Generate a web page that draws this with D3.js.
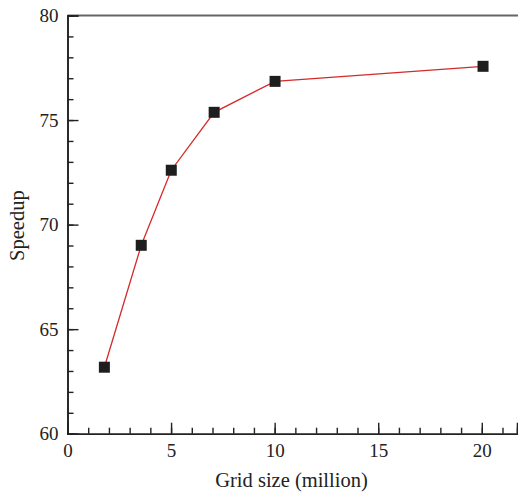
<!DOCTYPE html>
<html>
<head>
<meta charset="utf-8">
<script src="https://cdn.jsdelivr.net/npm/d3@7"></script>
<style>
  body { margin: 0; background: #fff; }
  svg text { font-family: "Liberation Serif", serif; fill: #222; }
</style>
</head>
<body>
<svg id="chart"></svg>
<script>
let gridSize = [1.78, 3.56, 5.01, 7.08, 10.02, 20.06];
let speedup = [63.18, 69.01, 72.6, 75.37, 76.85, 77.57];
let xTicks = [0, 5, 10, 15, 20];
let yTicks = [60, 65, 70, 75, 80];

let width = 518;
let height = 496;
let padLeft = 67.5, padRight = 517, padTop = 15.5, padBottom = 433.7;
let serif = "'Liberation Serif', 'Times New Roman', serif";

let svg = d3.select("#chart").attr("width", width).attr("height", height);

let xScale = d3.scaleLinear().domain([0, 21.7]).range([padLeft, padRight]);
let yScale = d3.scaleLinear().domain([60, 80]).range([padBottom, padTop]);

// top frame line
svg.append("line")
  .attr("x1", padLeft).attr("x2", width)
  .attr("y1", padTop).attr("y2", padTop)
  .attr("stroke", "#666").attr("stroke-width", 2);

// axes, minor ticks pointing inward
let xMajor = d3.axisBottom(xScale).tickValues(xTicks).tickSize(-11).tickPadding(10);
let xMinor = d3.axisBottom(xScale).tickValues(d3.range(0, 22)).tickSize(-6).tickFormat("");
let gxm = svg.append("g").attr("transform", "translate(0," + padBottom + ")").call(xMinor);
let gx = svg.append("g").attr("transform", "translate(0," + padBottom + ")").call(xMajor);

let yMajor = d3.axisLeft(yScale).tickValues(yTicks).tickSize(-11).tickPadding(9);
let yMinor = d3.axisLeft(yScale).tickValues(d3.range(60, 81)).tickSize(-6).tickFormat("");
let gym = svg.append("g").attr("transform", "translate(" + padLeft + ",0)").call(yMinor);
let gy = svg.append("g").attr("transform", "translate(" + padLeft + ",0)").call(yMajor);

[gx, gxm, gy, gym].forEach(g => {
  g.attr("font-family", serif).attr("font-size", 19);
  g.select(".domain").attr("stroke", "#222").attr("stroke-width", 1.6);
  g.selectAll(".tick line").attr("stroke", "#222").attr("stroke-width", 1.4);
  g.selectAll("text").attr("fill", "#222");
});

// connecting line
let pts = gridSize.map((g, i) => [g, speedup[i]]);
let line = d3.line().x(d => xScale(d[0])).y(d => yScale(d[1]));
svg.append("path")
  .datum(pts)
  .attr("d", line)
  .attr("fill", "none")
  .attr("stroke", "#d42a2a")
  .attr("stroke-width", 1.3);

// square markers
let s = 11;
svg.selectAll("rect.pt")
  .data(pts)
  .enter()
  .append("rect")
  .attr("class", "pt")
  .attr("x", d => xScale(d[0]) - s / 2)
  .attr("y", d => yScale(d[1]) - s / 2)
  .attr("width", s)
  .attr("height", s)
  .attr("fill", "#1e1e1e");

// axis titles
svg.append("text")
  .attr("x", 291.5)
  .attr("y", 487)
  .attr("text-anchor", "middle")
  .attr("font-family", serif)
  .style("font-size", "20.5px")
  .text("Grid size (million)");

svg.append("text")
  .attr("transform", "translate(24," + ((padTop + padBottom) / 2 + 1) + ") rotate(-90)")
  .attr("text-anchor", "middle")
  .attr("font-family", serif)
  .style("font-size", "20.5px")
  .text("Speedup");
</script>
</body>
</html>
